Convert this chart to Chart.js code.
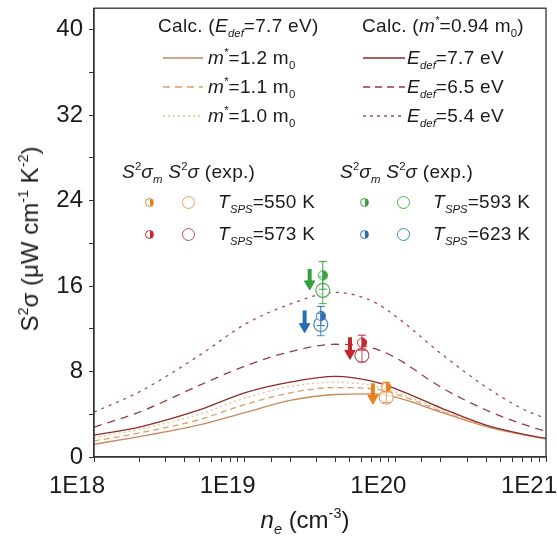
<!DOCTYPE html>
<html>
<head>
<meta charset="utf-8">
<script src="https://cdn.jsdelivr.net/npm/chart.js@4.4.0/dist/chart.umd.min.js"></script>
<style>
    body { margin: 0; background: #fff; }
    #wrap { position: relative; width: 557px; height: 540px; font-family: "Liberation Sans", Arial, sans-serif; color: #1a1a1a; }
    #chart { position: absolute; left: 0; top: 0; }
    .t { position: absolute; white-space: nowrap; font-size: 19px; line-height: 22px; letter-spacing: 0.3px; }
    sub, sup { line-height: 0; font-size: 0.6em; letter-spacing: 0; }
    sub { vertical-align: -0.45em; }
    sup { vertical-align: 0.7em; }
    .ln { position: absolute; }
    .mk { position: absolute; border-radius: 50%; box-sizing: border-box; }
    .ttl { position: absolute; white-space: nowrap; font-size: 24px; line-height: 28px; }
</style>
</head>
<body>
<div id="wrap">
    <canvas id="chart" width="557" height="540"></canvas>

    <!-- legend: calculated curves -->
    <div class="t" style="left:158px;top:15px">Calc. (<i>E</i><sub><i>def</i></sub>=7.7 eV)</div>
    <div class="t" style="left:362px;top:15px">Calc. (<i>m</i><sup>*</sup>=0.94 m<sub>0</sub>)</div>

    <svg class="ln" style="left:163px;top:56px" width="40" height="4"><line x1="0" y1="2" x2="40" y2="2" stroke="#c8875a" stroke-width="1.3"/></svg>
    <div class="t" style="left:208px;top:47px"><i>m</i><sup>*</sup>=1.2 m<sub>0</sub></div>
    <svg class="ln" style="left:163px;top:85px" width="40" height="4"><line x1="0" y1="2" x2="40" y2="2" stroke="#d9a06a" stroke-width="1.3" stroke-dasharray="7 5"/></svg>
    <div class="t" style="left:208px;top:76px"><i>m</i><sup>*</sup>=1.1 m<sub>0</sub></div>
    <svg class="ln" style="left:163px;top:114px" width="40" height="4"><line x1="0" y1="2" x2="40" y2="2" stroke="#e6bf8e" stroke-width="1.3" stroke-dasharray="2 3"/></svg>
    <div class="t" style="left:208px;top:105px"><i>m</i><sup>*</sup>=1.0 m<sub>0</sub></div>

    <svg class="ln" style="left:363px;top:56px" width="42" height="4"><line x1="0" y1="2" x2="42" y2="2" stroke="#8e2b2b" stroke-width="1.3"/></svg>
    <div class="t" style="left:407px;top:47px"><i>E</i><sub><i>def</i></sub>=7.7 eV</div>
    <svg class="ln" style="left:363px;top:85px" width="42" height="4"><line x1="0" y1="2" x2="42" y2="2" stroke="#9c3a3e" stroke-width="1.3" stroke-dasharray="7 5"/></svg>
    <div class="t" style="left:407px;top:76px"><i>E</i><sub><i>def</i></sub>=6.5 eV</div>
    <svg class="ln" style="left:363px;top:114px" width="42" height="4"><line x1="0" y1="2" x2="42" y2="2" stroke="#a8485a" stroke-width="1.3" stroke-dasharray="3 4"/></svg>
    <div class="t" style="left:407px;top:105px"><i>E</i><sub><i>def</i></sub>=5.4 eV</div>

    <!-- legend: experiments -->
    <div class="t" style="left:122px;top:161px"><i>S</i><sup>2</sup><i>σ</i><sub><i>m</i></sub> <i>S</i><sup>2</sup><i>σ</i> (exp.)</div>
    <div class="t" style="left:340px;top:161px"><i>S</i><sup>2</sup><i>σ</i><sub><i>m</i></sub> <i>S</i><sup>2</sup><i>σ</i> (exp.)</div>

    <div class="mk" style="left:145px;top:198px;width:9px;height:9px;border:1px solid #e8821e;background:linear-gradient(to right,#fff 50%,#e8821e 50%)"></div>
    <div class="mk" style="left:182px;top:196px;width:13px;height:13px;border:1px solid #e8a060;background:#fff"></div>
    <div class="t" style="left:218px;top:191px"><i>T</i><sub><i>SPS</i></sub>=550 K</div>
    <div class="mk" style="left:145px;top:230px;width:9px;height:9px;border:1px solid #c3262c;background:linear-gradient(to right,#fff 50%,#c3262c 50%)"></div>
    <div class="mk" style="left:182px;top:228px;width:13px;height:13px;border:1px solid #b8505a;background:#fff"></div>
    <div class="t" style="left:218px;top:223px"><i>T</i><sub><i>SPS</i></sub>=573 K</div>

    <div class="mk" style="left:360px;top:198px;width:9px;height:9px;border:1px solid #35a03a;background:linear-gradient(to right,#fff 50%,#35a03a 50%)"></div>
    <div class="mk" style="left:397px;top:196px;width:13px;height:13px;border:1px solid #4cae52;background:#fff"></div>
    <div class="t" style="left:433px;top:191px"><i>T</i><sub><i>SPS</i></sub>=593 K</div>
    <div class="mk" style="left:360px;top:230px;width:9px;height:9px;border:1px solid #2a6cb4;background:linear-gradient(to right,#fff 50%,#2a6cb4 50%)"></div>
    <div class="mk" style="left:397px;top:228px;width:13px;height:13px;border:1px solid #3a86b8;background:#fff"></div>
    <div class="t" style="left:433px;top:223px"><i>T</i><sub><i>SPS</i></sub>=623 K</div>

    <!-- axis titles -->
    <div class="ttl" style="left:30px;top:239px;transform:translate(-50%,-50%) rotate(-90deg)">S<sup>2</sup>σ (μW cm<sup>-1</sup> K<sup>-2</sup>)</div>
    <div class="ttl" style="left:305px;top:520px;transform:translate(-50%,-50%)"><i>n</i><sub><i>e</i></sub> (cm<sup>-3</sup>)</div>
</div>

<script>
// Carrier concentration grid of the calculated curves (cm^-3)
const nE = [1e18, 2e18, 5e18, 1e19, 2e19, 4e19, 7e19, 1e20, 2e20, 4e20, 7e20, 1e21];

// Calc. (Edef = 7.7 eV), power factor in uW cm^-1 K^-2
const pfM12 = [1.2, 1.9, 3.0, 4.15, 5.3, 5.85, 5.9, 5.6, 4.2, 2.85, 2.1, 1.7];
const pfM11 = [1.5, 2.25, 3.5, 4.9, 6.0, 6.5, 6.4, 5.9, 4.3, 2.9, 2.1, 1.7];
const pfM10 = [1.8, 2.6, 4.0, 5.5, 6.6, 7.0, 6.7, 6.1, 4.4, 2.95, 2.12, 1.72];

// Calc. (m* = 0.94 m0)
const pfE77 = [2.05, 2.8, 4.4, 6.0, 7.0, 7.55, 7.1, 6.4, 4.6, 2.98, 2.14, 1.74];
const pfE65 = [2.8, 4.2, 6.7, 8.5, 9.85, 10.55, 10.2, 9.3, 6.55, 4.4, 3.07, 2.4];
const pfE54 = [4.2, 6.1, 9.5, 12.4, 14.3, 15.4, 14.6, 13.2, 9.7, 6.55, 4.5, 3.6];

// Experiments, one entry per T_SPS = 550, 573, 593, 623 K
const expColors = ['#e8821e', '#c3262c', '#35a03a', '#2a6cb4'];
const openColors = ['#e8a060', '#b8505a', '#4cae52', '#3a86b8'];
const expN = [8.7e19, 6.0e19, 3.3e19, 3.2e19];
const pfMax = [6.55, 10.7, 17.0, 13.2];
const pfMaxErr = [0.45, 0.7, 1.3, 0.9];
const pfExp = [5.6, 9.5, 15.6, 12.4];
const pfExpErr = [0.5, 0.6, 1.25, 1.05];
const arrowN = [7.1e19, 5.0e19, 2.7e19, 2.5e19];
const arrowTop = [6.9, 11.2, 17.6, 13.7];
const arrowEnd = [5.5, 9.7, 16.2, 12.2];

// Tick labels
const xTickVals = [1e18, 1e19, 1e20, 1e21];
const xTickText = ['1E18', '1E19', '1E20', '1E21'];
const yTickText = ['0', '8', '16', '24', '32', '40'];

function curve(values) {
    return nE.map((n, i) => ({ x: n, y: values[i] }));
}

function calcLine(values, color, dash) {
    return {
        data: curve(values),
        borderColor: color,
        borderWidth: 1.3,
        borderDash: dash,
        pointRadius: 0,
        cubicInterpolationMode: 'monotone',
        fill: false,
        order: 3
    };
}

// Half filled marker (S2σm)
function halfDot(color, r) {
    const c = document.createElement('canvas');
    const s = r * 2 + 2;
    c.width = s;
    c.height = s;
    const g = c.getContext('2d');
    const m = s / 2;
    g.beginPath(); g.arc(m, m, r, 0, Math.PI * 2); g.fillStyle = '#fff'; g.fill();
    g.beginPath(); g.arc(m, m, r, -Math.PI / 2, Math.PI / 2); g.closePath(); g.fillStyle = color; g.fill();
    g.beginPath(); g.arc(m, m, r - 0.5, 0, Math.PI * 2); g.strokeStyle = color; g.lineWidth = 1; g.stroke();
    return c;
}

// Error bars for both experimental series
const errorBars = {
    id: 'errorBars',
    afterDatasetsDraw(chart) {
        const { ctx, scales: { x, y } } = chart;
        ctx.save();
        ctx.lineWidth = 1;
        expN.forEach((n, i) => {
            const px = x.getPixelForValue(n);
            [[pfMax[i], pfMaxErr[i], expColors[i]], [pfExp[i], pfExpErr[i], openColors[i]]].forEach(([v, e, col]) => {
                const top = y.getPixelForValue(v + e);
                const bot = y.getPixelForValue(v - e);
                ctx.strokeStyle = col;
                ctx.beginPath();
                ctx.moveTo(px, top); ctx.lineTo(px, bot);
                ctx.moveTo(px - 4, top); ctx.lineTo(px + 4, top);
                ctx.moveTo(px - 4, bot); ctx.lineTo(px + 4, bot);
                ctx.stroke();
            });
        });
        ctx.restore();
    }
};

// Box around the plot
const frame = {
    id: 'frame',
    afterDraw(chart) {
        const { ctx, chartArea: a } = chart;
        ctx.save();
        ctx.strokeStyle = '#333';
        ctx.lineWidth = 1.3;
        ctx.strokeRect(a.left, a.top, a.right - a.left, a.bottom - a.top);
        ctx.restore();
    }
};

const datasets = [
    // S2σm, half filled
    {
        type: 'scatter',
        data: expN.map((n, i) => ({ x: n, y: pfMax[i] })),
        pointStyle: expColors.map(c => halfDot(c, 5)),
        order: 0
    },
    // S2σ (exp.), open circles
    {
        type: 'scatter',
        data: expN.map((n, i) => ({ x: n, y: pfExp[i] })),
        pointStyle: 'circle',
        pointRadius: 7,
        pointBorderWidth: 1.2,
        pointBorderColor: openColors,
        pointBackgroundColor: 'rgba(255,255,255,0.75)',
        order: 1
    },
    calcLine(pfE54, '#a8485a', [3, 5]),
    calcLine(pfE65, '#9c3a3e', [8, 6]),
    calcLine(pfE77, '#8e2b2b', []),
    calcLine(pfM10, '#e6bf8e', [2, 3]),
    calcLine(pfM11, '#d9a06a', [6, 4]),
    calcLine(pfM12, '#c8875a', [])
];

// Down arrows
arrowN.forEach((n, i) => {
    datasets.push({
        data: [{ x: n, y: arrowTop[i] }, { x: n, y: arrowEnd[i] }],
        borderColor: expColors[i],
        borderWidth: 4,
        pointRadius: [0, 6],
        pointStyle: 'triangle',
        pointRotation: 180,
        pointBackgroundColor: expColors[i],
        pointBorderColor: expColors[i],
        pointBorderWidth: 1,
        order: 2
    });
});

new Chart(document.getElementById('chart').getContext('2d'), {
    type: 'line',
    data: { datasets: datasets },
    options: {
        responsive: false,
        devicePixelRatio: 1,
        animation: false,
        events: [],
        layout: { padding: { left: 0, top: 6, right: 11, bottom: 0 } },
        plugins: { legend: { display: false }, tooltip: { enabled: false } },
        scales: {
            x: {
                type: 'logarithmic',
                min: 1e18,
                max: 1e21,
                border: { display: true, color: '#333', width: 1.3 },
                grid: { display: true, drawOnChartArea: false, drawTicks: true, tickLength: 5, color: '#333', tickWidth: 1 },
                ticks: {
                    autoSkip: false,
                    maxRotation: 0,
                    padding: 10,
                    labelOffset: -17,
                    color: '#1a1a1a',
                    font: { family: 'Liberation Sans', size: 24 },
                    callback: function(value) {
                        const k = xTickVals.findIndex(v => Math.abs(value / v - 1) < 1e-6);
                        return k >= 0 ? xTickText[k] : '';
                    }
                },
                afterFit: function(scale) {
                    scale.height = 83;
                    scale.paddingLeft = 0;
                    scale.paddingRight = 0;
                }
            },
            y: {
                min: 0,
                max: 42,
                border: { display: true, color: '#333', width: 1.3 },
                grid: { display: true, drawOnChartArea: false, drawTicks: true, tickLength: 5, color: '#333', tickWidth: 1 },
                ticks: {
                    stepSize: 4,
                    includeBounds: false,
                    padding: 6,
                    color: '#1a1a1a',
                    font: { family: 'Liberation Sans', size: 24 },
                    callback: function(value) {
                        return value % 8 === 0 ? yTickText[value / 8] : '';
                    }
                },
                afterFit: function(scale) {
                    scale.width = 94;
                    scale.paddingTop = 0;
                    scale.paddingBottom = 0;
                }
            }
        }
    },
    plugins: [errorBars, frame]
});
</script>
</body>
</html>
